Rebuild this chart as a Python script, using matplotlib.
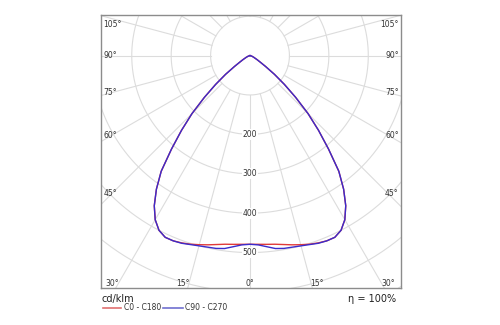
import numpy as np
import matplotlib
matplotlib.use("Agg")
import matplotlib.pyplot as plt

# Luminous intensity distribution (cd/klm) vs gamma angle (deg)
gamma = [0, 2.5, 5, 7.5, 10, 12.5, 15, 17.5, 20, 22.5, 25, 27.5, 30, 32.5, 35,
         37.5, 40, 42.5, 45, 47.5, 50, 52.5, 55, 57.5, 60, 65, 70, 75, 80, 90]
c0_c180 = [479, 479.5, 481, 483, 487, 492, 497, 502, 506, 509, 509, 500, 481, 452, 414,
           370, 310, 257, 208, 157, 114, 78, 48, 30, 21, 11, 6, 3, 1.5, 0]
c90_c270 = [479, 481, 487, 494, 497, 498, 500, 503, 507, 509, 509, 500, 481, 452, 414,
            370, 310, 257, 208, 157, 114, 78, 48, 30, 21, 11, 6, 3, 1.5, 0]
ring_values = [100, 200, 300, 400, 500, 600, 700]
ring_labels = ["200", "300", "400", "500"]
angle_labels_side = ["45°", "60°", "75°", "90°", "105°"]
angle_labels_bottom = ["30°", "15°", "0°", "15°", "30°"]
legend_names = ["C0 - C180", "C90 - C270"]
efficiency = "η = 100%"
unit = "cd/klm"

fig = plt.figure(figsize=(5, 3.25), dpi=100)
ax = fig.add_axes([0.202, 0.1138, 0.600, 0.840])
ax.set_xlim(-378, 383)
ax.set_ylim(-590, 103)
ax.set_xticks([])
ax.set_yticks([])
for s in ax.spines.values():
    s.set_color("#8c8c8c")
    s.set_linewidth(1.0)

grid_c = "#dcdcdc"
# rings
t = np.linspace(0, 2 * np.pi, 721)
for rv in ring_values:
    ax.plot(rv * np.sin(t), rv * np.cos(t), color=grid_c, lw=0.8, zorder=1)
# radial lines every 15 deg, starting at ring 100
for a in range(0, 360, 15):
    ar = np.deg2rad(a)
    ax.plot([100 * np.sin(ar), 900 * np.sin(ar)],
            [-100 * np.cos(ar), -900 * np.cos(ar)], color=grid_c, lw=0.8, zorder=1)

# curves (symmetric halves)
def curve(vals):
    g = np.deg2rad(np.array(gamma, dtype=float))
    v = np.array(vals, dtype=float)
    gg = np.concatenate([-g[::-1], g[1:]])
    vv = np.concatenate([v[::-1], v[1:]])
    return vv * np.sin(gg), -vv * np.cos(gg)

xr, yr = curve(c0_c180)
xb, yb = curve(c90_c270)
ax.plot(xr, yr, color="#e03a3a", lw=1.0, zorder=3, solid_joinstyle="round")
ax.plot(xb, yb, color="#3a2ccc", lw=1.0, zorder=4, solid_joinstyle="round")

# ring labels
for lab in ring_labels:
    v = float(lab)
    ax.text(0, -v, lab, ha="center", va="center", fontsize=5.5, color="#333333",
            zorder=2, bbox=dict(facecolor="white", edgecolor="none", pad=0.6))

# angle labels on sides
side_y = [193.7, 135.4, 92.7, 55.7, 25]
for lab, py in zip(angle_labels_side, side_y):
    yd = -(py - 55.7) / 0.394
    ax.text(-372, yd, lab, ha="left", va="center", fontsize=5.5, color="#333333", zorder=5)
    ax.text(377, yd, lab, ha="right", va="center", fontsize=5.5, color="#333333", zorder=5)
bottom_x = [112, 183, 250, 317, 388]
for lab, px in zip(angle_labels_bottom, bottom_x):
    xd = (px - 250) / 0.394
    ax.text(xd, -(284 - 55.7) / 0.394, lab, ha="center", va="center", fontsize=5.5,
            color="#333333", zorder=5)

# footer texts
fig.text(101 / 500, 1 - 299 / 325, unit, ha="left", va="center", fontsize=7, color="#222222")
fig.text(396 / 500, 1 - 299 / 325, efficiency, ha="right", va="center", fontsize=7, color="#222222")
ly = 1 - 307.5 / 325
fig.add_artist(plt.Line2D([103 / 500, 121 / 500], [ly, ly], color="#e07070", lw=1.2))
fig.text(124 / 500, ly, legend_names[0], ha="left", va="center", fontsize=5.5, color="#333333")
fig.add_artist(plt.Line2D([163 / 500, 183 / 500], [ly, ly], color="#7070d0", lw=1.2))
fig.text(185 / 500, ly, legend_names[1], ha="left", va="center", fontsize=5.5, color="#333333")

fig.savefig("out.png", dpi=100)
